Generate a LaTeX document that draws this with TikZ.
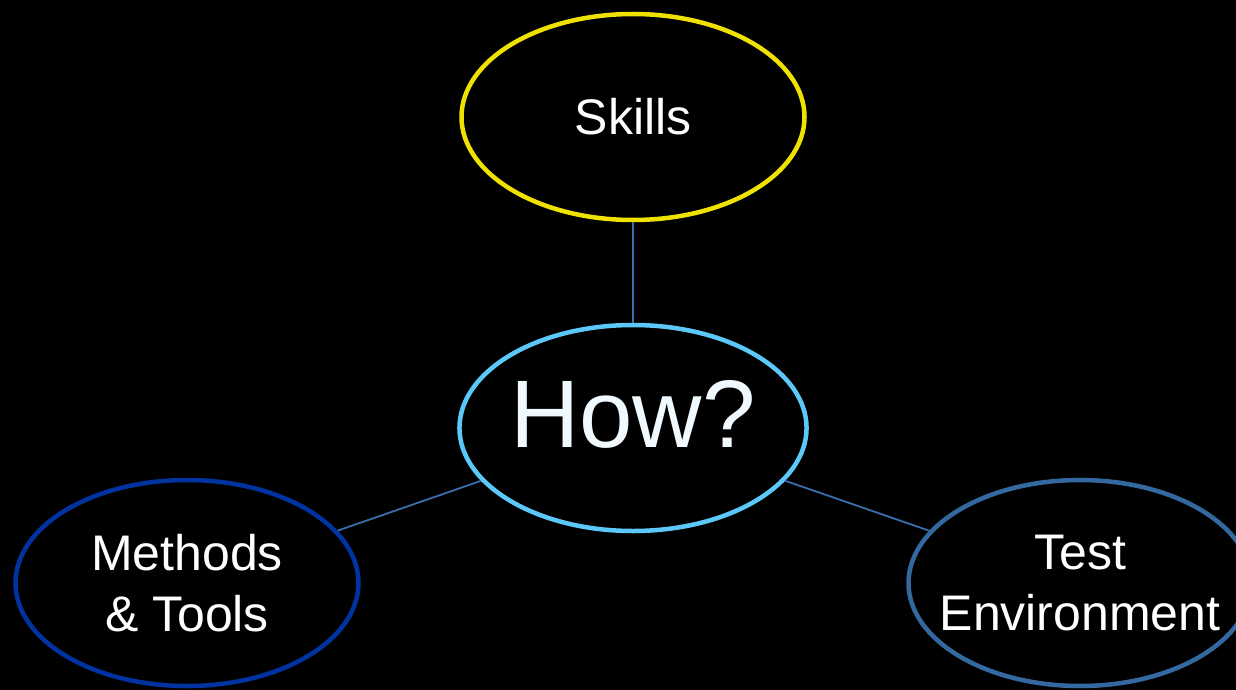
\documentclass[tikz,border=0pt]{standalone}
\usepackage{fontspec}
\setmainfont{Liberation Sans}
\usepackage{xcolor}
\usetikzlibrary{shapes.geometric}

\definecolor{skillyellow}{RGB}{240,226,0}
\definecolor{howblue}{RGB}{92,200,250}
\definecolor{methodblue}{RGB}{0,51,160}
\definecolor{testblue}{RGB}{52,105,160}
\definecolor{linkblue}{RGB}{58,110,168}

\begin{document}
\begin{tikzpicture} [-,auto,node distance=311pt]
  \tikzstyle{every node}=[ellipse,fill=black,line width=4.5pt,minimum width=343pt,minimum height=206pt,inner sep=0pt,text=white,align=center,font=\fontsize{50}{61}\selectfont]

  \fill[black] (0,0) rectangle (1236pt,-690pt);
  \clip (0,0) rectangle (1236pt,-690pt);

  \node[draw=skillyellow]  (skills) at (633pt,-117pt) {Skills};
  \node[draw=howblue,text=white!90!howblue,text depth=28pt,font=\fontsize{96}{110}\selectfont]
                           (how)     [below of=skills] {How?};
  \node[draw=methodblue]   (methods) [below of=how,node distance=155pt,xshift=-446pt] {Methods\\\& Tools};
  \node[draw=testblue,inner xsep=-40pt]
                           (test)    [below of=how,node distance=155pt,xshift=447pt] {Test\\Environment};

  \path[draw=linkblue,line width=1.8pt]
        (skills) edge (how)
        (how)    edge (methods)
                 edge (test);
\end{tikzpicture}
\end{document}
